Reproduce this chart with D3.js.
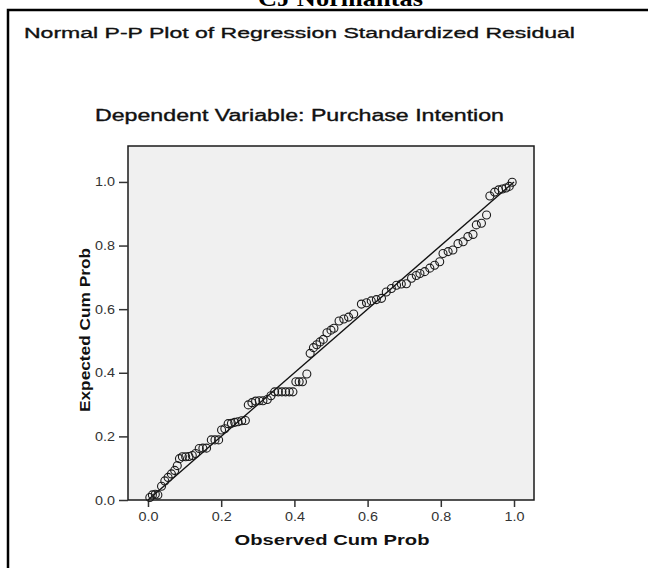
<!DOCTYPE html>
<html>
<head>
<meta charset="utf-8">
<script src="https://cdn.jsdelivr.net/npm/d3@7"></script>
<style>
  body { margin: 0; background: #fff; }
  svg { display: block; }
  text { font-family: Arial, "Liberation Sans", sans-serif; }
</style>
</head>
<body>
<svg width="648" height="568"></svg>
<script>
const width = 648, height = 568;
const svg = d3.select("svg");

// observed cum prob (x) and expected cum prob (y)
const observed = [
  0.005, 0.012, 0.020, 0.027, 0.037, 0.046, 0.055, 0.064, 0.073, 0.080,
  0.086, 0.094, 0.103, 0.112, 0.121, 0.130, 0.140, 0.150, 0.160, 0.173,
  0.183, 0.193, 0.201, 0.210, 0.219, 0.228, 0.237, 0.246, 0.256, 0.266,
  0.274, 0.284, 0.294, 0.304, 0.314, 0.326, 0.336, 0.346, 0.356, 0.366,
  0.376, 0.386, 0.396, 0.404, 0.413, 0.422, 0.434, 0.443, 0.452, 0.461,
  0.470, 0.479, 0.489, 0.500, 0.508, 0.522, 0.535, 0.548, 0.562, 0.583,
  0.597, 0.610, 0.624, 0.638, 0.651, 0.665, 0.679, 0.692, 0.706, 0.720,
  0.733, 0.743, 0.756, 0.770, 0.783, 0.797, 0.806, 0.820, 0.833, 0.847,
  0.861, 0.874, 0.888, 0.897, 0.911, 0.925, 0.934, 0.947, 0.958, 0.968,
  0.978, 0.987, 0.995
];
const expected = [
  0.008, 0.016, 0.018, 0.016, 0.043, 0.060, 0.071, 0.082, 0.093, 0.108,
  0.130, 0.136, 0.136, 0.137, 0.140, 0.146, 0.162, 0.163, 0.163, 0.189,
  0.189, 0.189, 0.220, 0.224, 0.240, 0.241, 0.244, 0.246, 0.249, 0.250,
  0.299, 0.306, 0.311, 0.312, 0.312, 0.316, 0.328, 0.340, 0.340, 0.340,
  0.340, 0.340, 0.340, 0.372, 0.372, 0.372, 0.396, 0.461, 0.479, 0.488,
  0.497, 0.505, 0.526, 0.534, 0.540, 0.563, 0.569, 0.575, 0.585, 0.616,
  0.620, 0.626, 0.630, 0.634, 0.654, 0.665, 0.675, 0.679, 0.680, 0.697,
  0.706, 0.712, 0.718, 0.729, 0.738, 0.749, 0.775, 0.781, 0.786, 0.806,
  0.812, 0.828, 0.835, 0.865, 0.870, 0.896, 0.956, 0.968, 0.975, 0.978,
  0.981, 0.986, 0.999
];
const xTicks = [0, 0.2, 0.4, 0.6, 0.8, 1.0];
const yTicks = [0, 0.2, 0.4, 0.6, 0.8, 1.0];

const plotL = 128, plotR = 534, plotT = 146, plotB = 500;
const x = d3.scaleLinear().domain([-0.0546, 1.0546]).range([plotL, plotR]);
const y = d3.scaleLinear().domain([0, 1.113]).range([plotB, plotT]);

// header text cut off above the frame
svg.append("text")
  .attr("x", 258).attr("y", 6)
  .attr("textLength", 165).attr("lengthAdjust", "spacingAndGlyphs")
  .style("font-family", "'Liberation Serif', 'Times New Roman', serif")
  .style("font-weight", "bold").style("font-size", "24px")
  .text("CJ Normantas");

// outer frame (runs off the page right and bottom)
svg.append("rect")
  .attr("x", 8).attr("y", 10).attr("width", 700).attr("height", 620)
  .attr("fill", "#fff").attr("stroke", "#000").attr("stroke-width", 2.5);

svg.append("text")
  .attr("x", 24).attr("y", 38)
  .attr("textLength", 551).attr("lengthAdjust", "spacingAndGlyphs")
  .style("font-size", "15.5px").attr("fill", "#111")
  .attr("stroke", "#111").attr("stroke-width", 0.35)
  .text("Normal P-P Plot of Regression Standardized Residual");

svg.append("text")
  .attr("x", 95).attr("y", 121)
  .attr("textLength", 409).attr("lengthAdjust", "spacingAndGlyphs")
  .style("font-size", "16px").attr("fill", "#111")
  .attr("stroke", "#111").attr("stroke-width", 0.35)
  .text("Dependent Variable: Purchase Intention");

// plot area
svg.append("rect")
  .attr("x", plotL).attr("y", plotT)
  .attr("width", plotR - plotL).attr("height", plotB - plotT)
  .attr("fill", "#f0f0f0").attr("stroke", "#1a1a1a").attr("stroke-width", 1.5);

const styleAxis = g => {
  g.select(".domain").remove();
  g.selectAll(".tick line").attr("stroke", "#333").attr("stroke-width", 1.5);
  g.selectAll(".tick text")
    .attr("fill", "#333")
    .attr("textLength", 20).attr("lengthAdjust", "spacingAndGlyphs")
    .style("font-size", "12.5px")
    .style("font-family", "Arial, 'Liberation Sans', sans-serif");
};

svg.append("g")
  .attr("transform", `translate(${plotL},0)`)
  .call(d3.axisLeft(y).tickValues(yTicks).tickFormat(d3.format(".1f")).tickSize(9).tickPadding(4))
  .call(styleAxis);

svg.append("g")
  .attr("transform", `translate(0,${plotB})`)
  .call(d3.axisBottom(x).tickValues(xTicks).tickFormat(d3.format(".1f")).tickSize(7).tickPadding(5))
  .call(styleAxis);

// reference diagonal
svg.append("line")
  .attr("x1", x(0)).attr("y1", y(0))
  .attr("x2", x(1)).attr("y2", y(1))
  .attr("stroke", "#111").attr("stroke-width", 1.4);

svg.append("g").selectAll("circle")
  .data(observed.map((v, i) => ({ o: v, e: expected[i] })))
  .join("circle")
  .attr("cx", d => x(d.o)).attr("cy", d => y(d.e))
  .attr("r", 4)
  .attr("fill", "none").attr("stroke", "#1a1a1a").attr("stroke-width", 1.1);

// axis titles
svg.append("text")
  .attr("x", 332).attr("y", 545)
  .attr("text-anchor", "middle")
  .attr("textLength", 195).attr("lengthAdjust", "spacingAndGlyphs")
  .style("font-size", "15px").style("font-weight", "bold").attr("fill", "#111")
  .text("Observed Cum Prob");

svg.append("text")
  .attr("transform", "translate(90,330) rotate(-90)")
  .attr("text-anchor", "middle")
  .attr("textLength", 164).attr("lengthAdjust", "spacingAndGlyphs")
  .style("font-size", "15px").style("font-weight", "bold").attr("fill", "#111")
  .text("Expected Cum Prob");
</script>
</body>
</html>
